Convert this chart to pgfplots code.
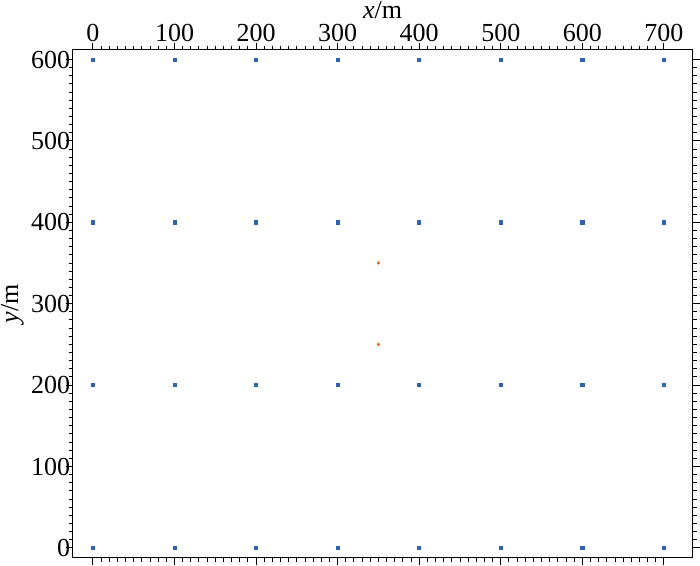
\documentclass[border=0pt]{standalone}
\usepackage{fontspec}
\setmainfont{Liberation Serif}
\usepackage{pgfplots}
\pgfplotsset{compat=1.18}
\definecolor{nodeblue}{HTML}{2F62B0}
\definecolor{srcorange}{HTML}{F0651E}
\begin{document}
\fontsize{13}{15}\selectfont
\begin{tikzpicture}
\begin{axis}[
  scale only axis,
  width=310pt, height=254pt,
  xmin=-25, xmax=735, ymin=-12, ymax=612,
  xtick={0,100,...,700}, ytick={0,100,...,600},
  minor tick num=9,
  tick pos=both, tick align=outside,
  xticklabel pos=upper,
  major tick length=3.5pt, minor tick length=2pt,
  every tick/.style={black, line width=0.5pt},
  axis line style={line width=0.5pt},
  /pgf/number format/assume math mode=true,
  ticklabel style={font=\fontsize{13}{15}\selectfont, inner sep=0.5pt},
  yticklabel style={xshift=3pt},
  label style={font=\fontsize{13}{15}\selectfont, inner sep=0.5pt},
  xlabel={\textit{x}/m}, ylabel={\textit{y}/m},
  xlabel style={yshift=1.5pt},
  ylabel style={yshift=2.5pt},
]
\addplot[only marks, mark=square*, mark size=0.8pt, color=nodeblue] coordinates {
  (0,0) (100,0) (200,0) (300,0) (400,0) (500,0) (600,0) (700,0)
  (0,200) (100,200) (200,200) (300,200) (400,200) (500,200) (600,200) (700,200)
  (0,400) (100,400) (200,400) (300,400) (400,400) (500,400) (600,400) (700,400)
  (0,600) (100,600) (200,600) (300,600) (400,600) (500,600) (600,600) (700,600)
};
\addplot[only marks, mark=*, mark size=0.6pt, color=srcorange] coordinates {
  (350,350) (350,250)
};
\end{axis}
\end{tikzpicture}
\end{document}
